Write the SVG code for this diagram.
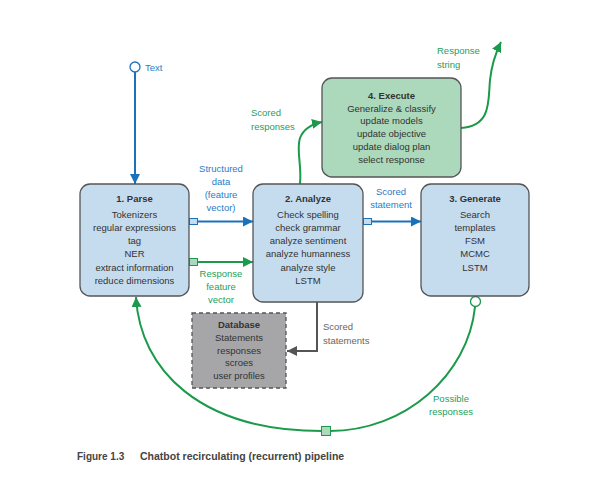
<svg xmlns="http://www.w3.org/2000/svg" width="611" height="483" viewBox="0 0 611 483">
<defs>
<style>
.box{fill:#c5dcef;stroke:#555;stroke-width:1.3}
.exe{fill:#acd8bb;stroke:#555;stroke-width:1.3}
.db{fill:#a6a6a9;stroke:#555;stroke-width:1.3;stroke-dasharray:4 3}
text{font-family:"Liberation Sans",Arial,sans-serif;font-size:9.5px}
.t{fill:#333;text-anchor:middle}
.h{font-weight:bold}
.bl{fill:#2a7cc7}
.gr{fill:#23a05a}
.gy{fill:#666}
.c{text-anchor:middle}
.cb{stroke:#1a72bb;stroke-width:2;fill:none}
.cg{stroke:#1a9a4a;stroke-width:2;fill:none}
.cy{stroke:#555;stroke-width:2;fill:none}
</style>
<marker id="ab" viewBox="0 0 10 10" refX="10" refY="5" markerWidth="5" markerHeight="5" orient="auto" markerUnits="strokeWidth"><path d="M0,0 L10,5 L0,10 z" fill="#1a72bb"/></marker>
<marker id="ag" viewBox="0 0 10 10" refX="10" refY="5" markerWidth="5" markerHeight="5" orient="auto" markerUnits="strokeWidth"><path d="M0,0 L10,5 L0,10 z" fill="#1a9a4a"/></marker>
<marker id="ay" viewBox="0 0 10 10" refX="10" refY="5" markerWidth="5" markerHeight="5" orient="auto" markerUnits="strokeWidth"><path d="M0,0 L10,5 L0,10 z" fill="#555"/></marker>
</defs>
<rect width="611" height="483" fill="#fff"/>

<g id="connectors">
  <circle cx="135" cy="67" r="5" fill="#fff" stroke="#1a72bb" stroke-width="1.3"/>
  <path class="cb" d="M135,72 L135,184" marker-end="url(#ab)"/>
  <path class="cb" d="M198,221.5 L253,221.5" marker-end="url(#ab)"/>
  <rect x="189.5" y="218.5" width="8" height="6" fill="#c5dcef" stroke="#1a72bb" stroke-width="1"/>
  <path class="cg" d="M198,262 L253,262" marker-end="url(#ag)"/>
  <rect x="189.5" y="258.5" width="8" height="7" fill="#acd8bb" stroke="#1a9a4a" stroke-width="1"/>
  <path class="cb" d="M372,221.5 L421,221.5" marker-end="url(#ab)"/>
  <rect x="363.5" y="218.5" width="8" height="6" fill="#c5dcef" stroke="#1a72bb" stroke-width="1"/>
  <path class="cy" d="M317,302 L317,351 L287,351" marker-end="url(#ay)"/>
  <path class="cg" d="M300,184 C302,165 296,150 300,138 C304,128 312,124 322,122" marker-end="url(#ag)"/>
  <path class="cg" d="M461,128 C492,126 488,100 490,80 C492,62 496,52 501,42" marker-end="url(#ag)"/>
  <path class="cg" d="M475,307 C468,375 405,431 330,431"/>
  <path class="cg" d="M322,431 C200,431 140,370 136,297" marker-end="url(#ag)"/>
  <circle cx="475.5" cy="301.5" r="5" fill="#fff" stroke="#1a9a4a" stroke-width="1.3"/>
  <rect x="321.5" y="426.5" width="9" height="9" fill="#acd8bb" stroke="#1a9a4a" stroke-width="1"/>
</g>

<g id="labels">
  <text x="145" y="70.5" class="bl">Text</text>
  <text x="221" y="172" class="bl c">Structured</text>
  <text x="221" y="185" class="bl c">data</text>
  <text x="221" y="198" class="bl c">(feature</text>
  <text x="221" y="211" class="bl c">vector)</text>
  <text x="221" y="277" class="gr c">Response</text>
  <text x="221" y="290" class="gr c">feature</text>
  <text x="221" y="303" class="gr c">vector</text>
  <text x="391" y="195" class="bl c">Scored</text>
  <text x="391" y="208" class="bl c">statement</text>
  <text x="323" y="330" class="gy">Scored</text>
  <text x="323" y="344" class="gy">statements</text>
  <text x="251" y="116" class="gr">Scored</text>
  <text x="251" y="130" class="gr">responses</text>
  <text x="437" y="54" class="gr">Response</text>
  <text x="437" y="68" class="gr">string</text>
  <text x="451" y="402" class="gr c">Possible</text>
  <text x="451" y="415" class="gr c">responses</text>
</g>

<g id="parse">
  <rect class="box" x="80" y="184" width="109" height="112" rx="10"/>
  <text x="134.5" y="202" class="t h">1. Parse</text>
  <text x="134.5" y="218" class="t">Tokenizers</text>
  <text x="134.5" y="231" class="t">regular expressions</text>
  <text x="134.5" y="244" class="t">tag</text>
  <text x="134.5" y="257" class="t">NER</text>
  <text x="134.5" y="271" class="t">extract information</text>
  <text x="134.5" y="284" class="t">reduce dimensions</text>
</g>

<g id="analyze">
  <rect class="box" x="253" y="184" width="110" height="118" rx="10"/>
  <text x="308" y="202" class="t h">2. Analyze</text>
  <text x="308" y="218" class="t">Check spelling</text>
  <text x="308" y="231" class="t">check grammar</text>
  <text x="308" y="244" class="t">analyze sentiment</text>
  <text x="308" y="257" class="t">analyze humanness</text>
  <text x="308" y="271" class="t">analyze style</text>
  <text x="308" y="284" class="t">LSTM</text>
</g>

<g id="generate">
  <rect class="box" x="421" y="184" width="108" height="112" rx="10"/>
  <text x="475" y="202" class="t h">3. Generate</text>
  <text x="475" y="218" class="t">Search</text>
  <text x="475" y="231" class="t">templates</text>
  <text x="475" y="244" class="t">FSM</text>
  <text x="475" y="257" class="t">MCMC</text>
  <text x="475" y="271" class="t">LSTM</text>
</g>

<g id="execute">
  <rect class="exe" x="322" y="78" width="139" height="99" rx="10"/>
  <text x="391.5" y="99" class="t h">4. Execute</text>
  <text x="391.5" y="112" class="t">Generalize &amp; classify</text>
  <text x="391.5" y="124" class="t">update models</text>
  <text x="391.5" y="137" class="t">update objective</text>
  <text x="391.5" y="150" class="t">update dialog plan</text>
  <text x="391.5" y="163" class="t">select response</text>
</g>

<g id="database">
  <rect class="db" x="192" y="313" width="94" height="75"/>
  <text x="239" y="328" class="t h">Database</text>
  <text x="239" y="341" class="t">Statements</text>
  <text x="239" y="354" class="t">responses</text>
  <text x="239" y="366" class="t">scroes</text>
  <text x="239" y="379" class="t">user profiles</text>
</g>

<g id="caption">
  <text x="77" y="459.5" fill="#444" font-weight="bold" style="font-size:10px">Figure 1.3</text>
  <text x="140" y="459.5" fill="#444" font-weight="bold" style="font-size:10.5px">Chatbot recirculating (recurrent) pipeline</text>
</g>
</svg>
